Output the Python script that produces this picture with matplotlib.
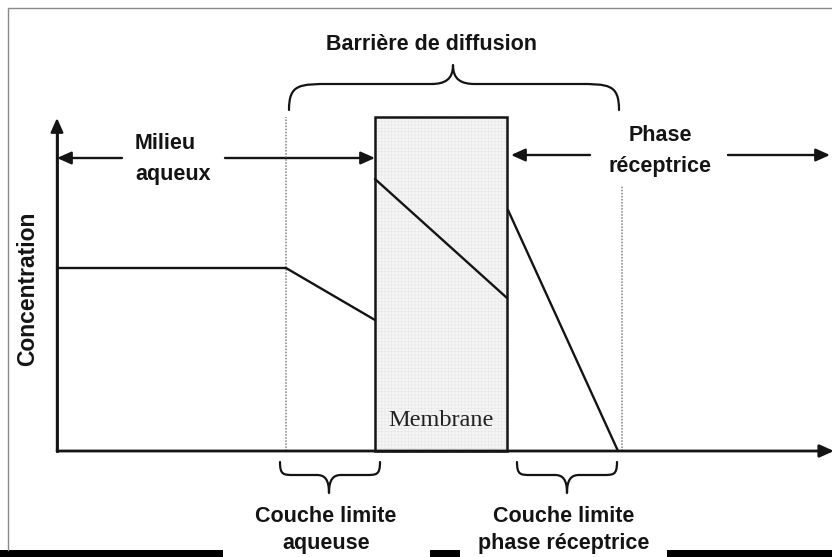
import matplotlib
matplotlib.use("Agg")
import matplotlib.pyplot as plt
from matplotlib.patches import Rectangle, FancyArrowPatch, PathPatch
from matplotlib.path import Path

# ---------------- data (distance / concentration units, origin at axes corner) -------------
boundary_left = 229      # outer edge of aqueous boundary layer
membrane_left = 318
membrane_right = 450
boundary_right = 565     # outer edge of receptor boundary layer
membrane_height = 334

aqueous_x = [0, 229, 318]
aqueous_y = [183, 183, 131]
membrane_x = [318, 450]
membrane_y = [272, 153]
receptor_x = [451, 561]
receptor_y = [241, 0]

y_axis_top = 333
x_axis_end = 777

ylabel = "Concentration"
title_top = "Barrière de diffusion"
label_milieu = "Milieu\naqueux"
label_phase = "Phase\nréceptrice"
label_membrane = "Membrane"
label_cl_aq = "Couche limite\naqueuse"
label_cl_rec = "Couche limite\nphase réceptrice"

# ---------------- figure ----------------
W, H = 832, 557
fig = plt.figure(figsize=(W / 100, H / 100), dpi=100)
fig.patch.set_facecolor("white")

# decoration axes in pixel coordinates
axp = fig.add_axes([0, 0, 1, 1])
axp.set_xlim(0, W)
axp.set_ylim(H, 0)
axp.axis("off")

# data axes: origin at pixel (57, 451)
ax = fig.add_axes([0, 0, 1, 1])
ax.set_xlim(-57, W - 57)
ax.set_ylim(-(H - 451), 451)
ax.axis("off")
ax.patch.set_alpha(0)

INK = "#141414"
plt.rcParams["hatch.linewidth"] = 0.3

# membrane
ax.add_patch(Rectangle((membrane_left, 0), membrane_right - membrane_left, membrane_height,
                       facecolor="#f5f5f5", edgecolor="#e3e3e3", hatch="+++++", lw=0, zorder=1))
ax.add_patch(Rectangle((membrane_left, 0), membrane_right - membrane_left, membrane_height,
                       facecolor="none", edgecolor=INK, lw=1.8, zorder=3))
ax.text((membrane_left + membrane_right) / 2, 30, label_membrane, ha="center", va="center",
        fontsize=17.5, family=["Liberation Serif", "DejaVu Serif"], color="#222222", zorder=4)

# dotted boundaries
ax.plot([boundary_left, boundary_left], [0, membrane_height], ls=(0, (1, 1)), color="#808080",
        lw=1.1, zorder=2)
ax.plot([boundary_right, boundary_right], [0, 265], ls=(0, (1, 1)), color="#808080",
        lw=1.1, zorder=2)

# concentration profile
for xs, ys in [(aqueous_x, aqueous_y), (membrane_x, membrane_y), (receptor_x, receptor_y)]:
    ax.plot(xs, ys, color=INK, lw=1.7, solid_capstyle="round", zorder=5)


def arrow(a, x0, y0, x1, y1, lw=1.7):
    a.add_patch(FancyArrowPatch((x0, y0), (x1, y1),
                                arrowstyle="-|>,head_length=0.85,head_width=0.38",
                                mutation_scale=10, color=INK, lw=lw, shrinkA=0, shrinkB=0,
                                zorder=6))


# axes
ax.plot([0, 0], [0, y_axis_top - 8], color=INK, lw=2.0, zorder=6)
arrow(ax, 0, 0, 0, y_axis_top)
arrow(ax, 0, 0, x_axis_end, 0, lw=2.0)

# horizontal arrows (pixel coordinates)
arrow(axp, 122, 158, 57, 158, lw=1.7)
arrow(axp, 225, 158, 375, 158, lw=1.7)
arrow(axp, 590, 155, 511, 155, lw=1.7)
arrow(axp, 728, 155, 830, 155, lw=1.7)


def brace(a, x0, x1, y_end, y_flat, xtip, y_tip, r, r2, lw=1.6):
    verts = [
        (x0, y_end),
        (x0, y_flat), (x0 + 0.25 * r, y_flat), (x0 + r, y_flat),
        (xtip - r2, y_flat),
        (xtip - 0.35 * r2, y_flat), (xtip, y_flat - 0.25 * (y_flat - y_tip)), (xtip, y_tip),
        (xtip, y_flat - 0.25 * (y_flat - y_tip)), (xtip + 0.35 * r2, y_flat), (xtip + r2, y_flat),
        (x1 - r, y_flat),
        (x1 - 0.25 * r, y_flat), (x1, y_flat), (x1, y_end),
    ]
    codes = [Path.MOVETO,
             Path.CURVE4, Path.CURVE4, Path.CURVE4,
             Path.LINETO,
             Path.CURVE4, Path.CURVE4, Path.CURVE4,
             Path.CURVE4, Path.CURVE4, Path.CURVE4,
             Path.LINETO,
             Path.CURVE4, Path.CURVE4, Path.CURVE4]
    a.add_patch(PathPatch(Path(verts, codes), facecolor="none", edgecolor=INK, lw=lw,
                          capstyle="round", joinstyle="round"))


brace(axp, 289, 619, 110, 84, 453, 65, 42, 22)
brace(axp, 280, 380, 462, 475, 329, 493, 14, 12)
brace(axp, 517, 617, 462, 475, 567, 493, 14, 12)

bold = dict(fontsize=15.5, fontweight="bold", family=["Liberation Sans", "DejaVu Sans"],
            color=INK)
axp.text(432, 44, title_top, ha="center", va="center", **bold)
axp.text(135, 159, label_milieu, ha="left", va="center", linespacing=1.65, **bold)
axp.text(660, 151, label_phase, ha="center", va="center", linespacing=1.6, **bold)
axp.text(326, 530, label_cl_aq, ha="center", va="center", linespacing=1.35, **bold)
axp.text(564, 530, label_cl_rec, ha="center", va="center", linespacing=1.35, **bold)
axp.text(28, 289, ylabel, ha="center", va="center", rotation=90,
         **{**bold, "fontsize": 16.5})

# frame border & bottom bars
axp.plot([8, 8, W], [550, 8, 8], color="#8a8a8a", lw=1.0)
for x0, x1 in [(0, 223), (430, 460), (667, W)]:
    axp.add_patch(Rectangle((x0, 550), x1 - x0, 8, facecolor="#000000", lw=0))

fig.savefig("out.png", dpi=100, facecolor="white")
